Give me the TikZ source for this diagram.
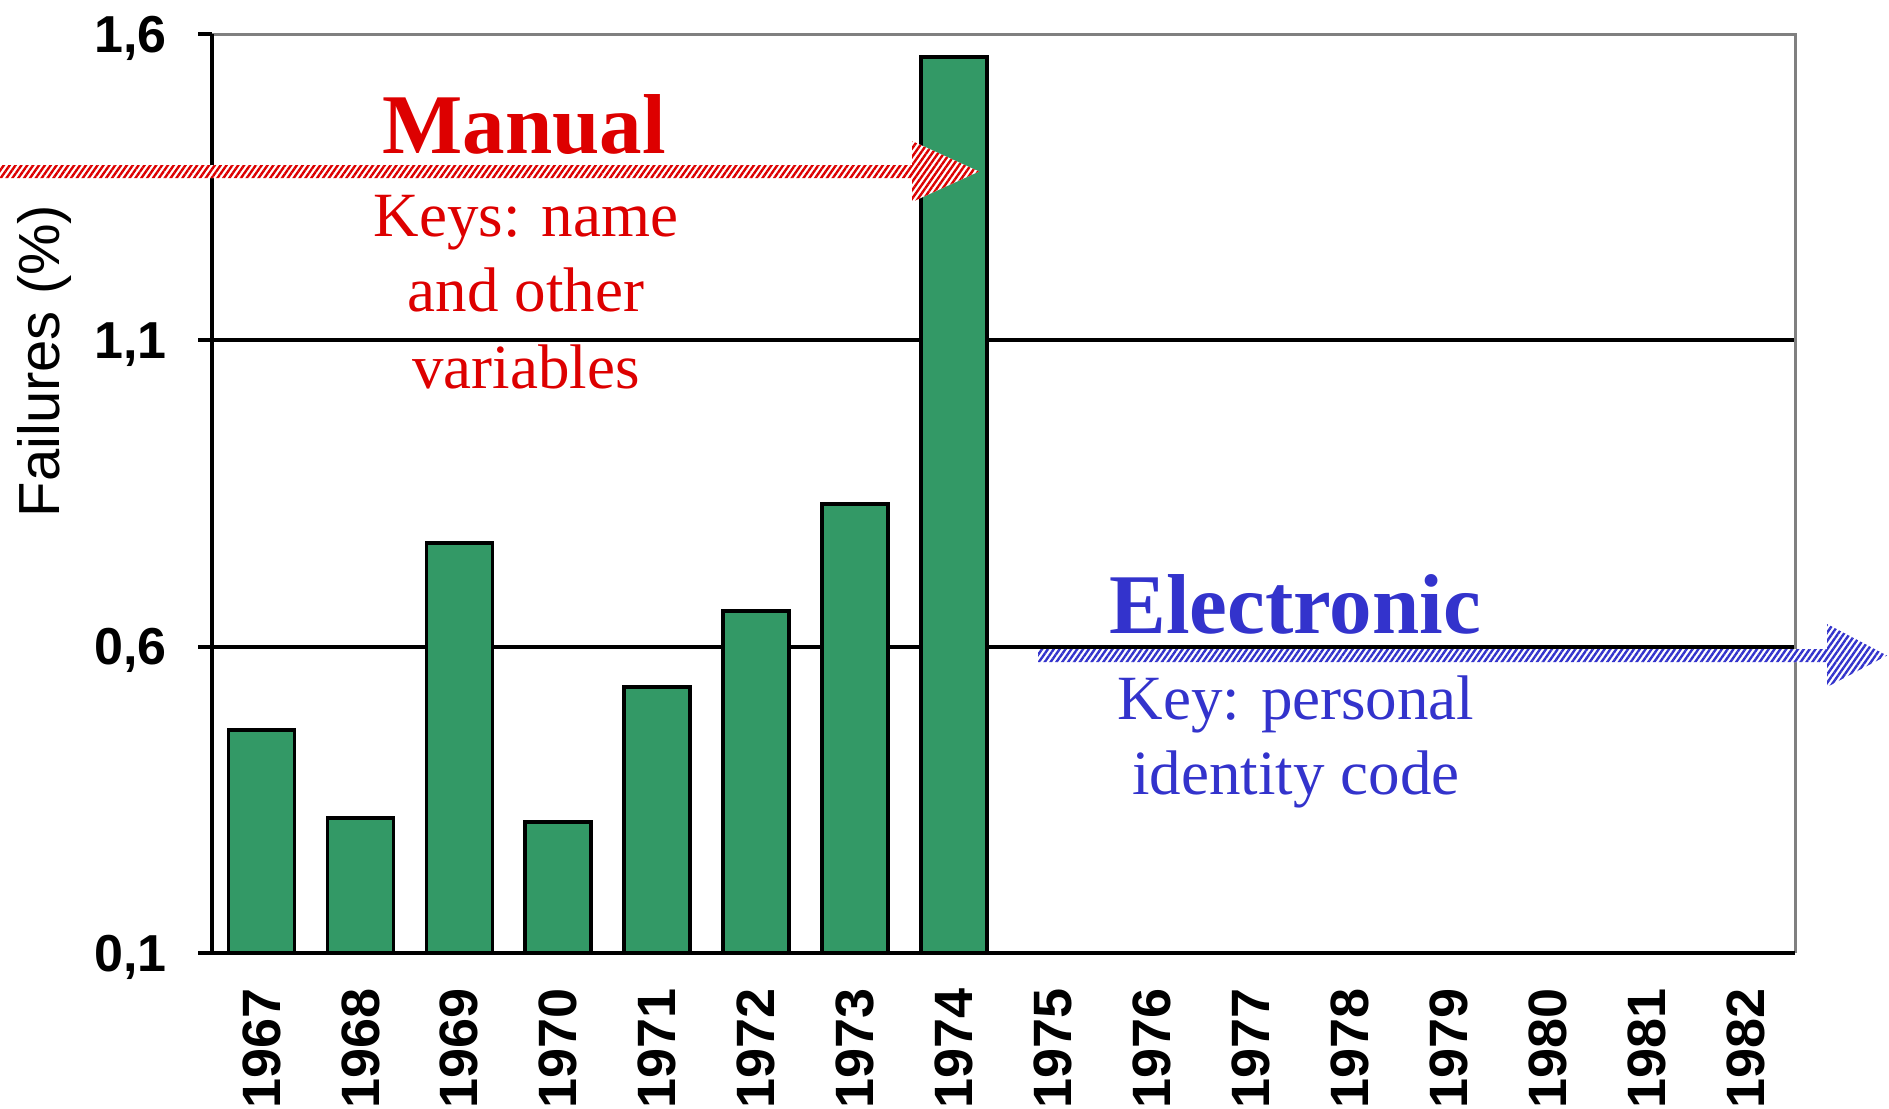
\documentclass[tikz,border=0pt]{standalone}
\usepackage{fontspec}
\setmainfont{Liberation Serif}
\newfontfamily\arial{Liberation Sans}
\usetikzlibrary{patterns.meta}
\definecolor{barGreen}{RGB}{51,153,102}
\definecolor{manRed}{RGB}{221,0,0}
\definecolor{elBlue}{RGB}{51,51,204}
\definecolor{frameGray}{RGB}{128,128,128}
\begin{document}
\begin{tikzpicture}[x=0.5pt,y=-0.5pt,
  bar/.style={draw=black,line width=1.8pt,fill=barGreen},
  gridln/.style={line width=1.9pt,black},
  axisln/.style={line width=2.1pt,black},
  frameln/.style={line width=1.5pt,frameGray},
  ticklab/.style={font=\arial\bfseries\fontsize{26}{26}\selectfont,anchor=base east,inner sep=0pt},
  yearlab/.style={font=\arial\bfseries\fontsize{27}{27}\selectfont,rotate=90,anchor=east,inner sep=0pt},
  ylab/.style={font=\arial\fontsize{29}{29}\selectfont,rotate=90,inner sep=0pt},
  bigtitle/.style={font=\bfseries\fontsize{42.5}{42.5}\selectfont,anchor=base,inner sep=0pt},
  subtitle/.style={font=\fontsize{31.5}{31.5}\selectfont,anchor=base,inner sep=0pt},
  hatchred/.style={fill=white,postaction={pattern={Lines[angle=55,distance=2.4pt,line width=1.2pt]},pattern color=manRed}},
  hatchblue/.style={fill=white,postaction={pattern={Lines[angle=55,distance=2.4pt,line width=1.2pt]},pattern color=elBlue}},
]
\useasboundingbox (0,0) rectangle (1889,1108);
\clip (0,0) rectangle (1889,1108);

% gridlines
\draw[gridln] (212,340.3) -- (1795,340.3);
\draw[gridln] (212,646.7) -- (1795,646.7);
% frame (top and right)
\draw[frameln] (212,34) -- (1795,34) -- (1795,953);

% bars
\foreach \i/\top in {0/730,1/818,2/543,3/822,4/687,5/611,6/504,7/57}{
  \pgfmathsetmacro{\cx}{212+98.94*(\i+0.5)}
  \draw[bar] (\cx-33,953) rectangle (\cx+33,\top);
}

% axes
\draw[axisln] (212,34) -- (212,953);
\draw[axisln] (198,953) -- (1795,953);
\foreach \yy in {34,340.3,646.7}{
  \draw[axisln] (198,\yy) -- (212,\yy);
}

% tick labels
\node[ticklab] (t16) at (167,52) {1,6};
\node[ticklab] (t11) at (167,358.3) {1,1};
\node[ticklab] (t06) at (167,664.7) {0,6};
\node[ticklab] (t01) at (167,971) {0,1};

% axis title
\node[ylab] (ytitle) at (44,361) {Failures (\%)};

% year labels
\foreach \i/\yr in {0/1967,1/1968,2/1969,3/1970,4/1971,5/1972,6/1973,7/1974,8/1975,9/1976,10/1977,11/1978,12/1979,13/1980,14/1981,15/1982}{
  \pgfmathsetmacro{\cx}{212+98.94*(\i+0.5)}
  \node[yearlab] (y\yr) at (\cx,988) {\yr};
}

% arrows
\fill[hatchred] (0,165) -- (912,165) -- (912,141) -- (979,171.5) -- (912,202) -- (912,178) -- (0,178) -- cycle;
\fill[hatchblue] (1038,649) -- (1827,649) -- (1827,624) -- (1887,655.5) -- (1827,687) -- (1827,662) -- (1038,662) -- cycle;

% texts
\node[bigtitle,text=manRed] (manual) at (524,153) {Manual};
\node[subtitle,text=manRed] (man1) at (526,236) {Keys: name};
\node[subtitle,text=manRed] (man2) at (526,311) {and other};
\node[subtitle,text=manRed] (man3) at (526,388) {variables};

\node[bigtitle,text=elBlue] (electronic) at (1295,633) {Electronic};
\node[subtitle,text=elBlue] (el1) at (1296,719) {Key: personal};
\node[subtitle,text=elBlue] (el2) at (1296,794) {identity code};
\end{tikzpicture}
\end{document}
